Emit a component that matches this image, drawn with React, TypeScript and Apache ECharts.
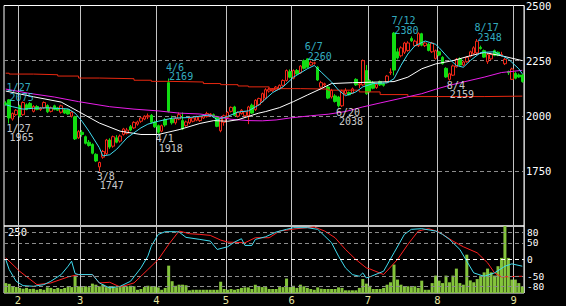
import React, { useEffect, useRef } from 'react';
import * as echarts from 'echarts';

// ---- calendar (Tokyo trading days, 2022-01-26 .. 2022-09-05) ----
const holidays = ['2022-02-11', '2022-02-23', '2022-03-21', '2022-04-29', '2022-05-03', '2022-05-04', '2022-05-05', '2022-07-18', '2022-08-11'];
function buildTradingDays(start: string, end: string): string[] {
  const out: string[] = [];
  const d = new Date(start + 'T00:00:00Z');
  const e = new Date(end + 'T00:00:00Z');
  while (d <= e) {
    const s = d.toISOString().slice(0, 10);
    const wd = d.getUTCDay();
    if (wd !== 0 && wd !== 6 && holidays.indexOf(s) < 0) out.push(s);
    d.setUTCDate(d.getUTCDate() + 1);
  }
  return out;
}
const categories = buildTradingDays('2022-01-26', '2022-09-05');

// ---- daily candles: [open, close, low, high] ----
const ohlc: number[][] = [
  [2058, 2052, 2045, 2066], [2072, 1990, 1965, 2075], [1985, 2010, 1978, 2015], [2005, 2025, 2000, 2030],
  [2045, 2000, 1992, 2050], [2005, 2060, 2000, 2065], [2050, 2028, 2025, 2056], [2056, 2035, 2030, 2062],
  [2020, 2042, 2015, 2048], [2042, 2028, 2025, 2048], [2028, 2035, 2022, 2040], [2036, 2060, 2032, 2065],
  [2046, 2018, 2012, 2052], [2020, 2036, 2015, 2042], [2045, 2028, 2025, 2050], [2036, 2025, 2022, 2040],
  [2016, 2045, 2010, 2050], [2027, 2012, 2008, 2032], [2027, 2008, 2005, 2030], [1998, 2016, 1992, 2022],
  [1995, 1895, 1890, 2000], [1900, 1928, 1895, 1935], [1925, 1915, 1905, 1935], [1905, 1875, 1870, 1910],
  [1880, 1865, 1860, 1890], [1870, 1830, 1825, 1875], [1825, 1795, 1790, 1830], [1768, 1788, 1747, 1792],
  [1812, 1838, 1805, 1845], [1828, 1890, 1822, 1895], [1890, 1858, 1850, 1898], [1862, 1905, 1855, 1910],
  [1900, 1880, 1875, 1912], [1885, 1908, 1878, 1915], [1915, 1940, 1910, 1945], [1920, 1935, 1915, 1945],
  [1950, 1935, 1930, 1958], [1945, 1970, 1940, 1975], [1962, 1972, 1955, 1978], [1975, 1990, 1968, 1995],
  [1985, 1998, 1980, 2002], [1995, 2000, 1985, 2010], [2002, 1970, 1965, 2008], [1972, 1950, 1945, 1978],
  [1955, 1925, 1918, 1960], [1930, 1955, 1925, 1960], [1982, 1958, 1950, 1990], [2150, 2020, 2015, 2169],
  [1985, 1968, 1960, 2000], [1968, 1988, 1960, 1995], [1985, 2005, 1980, 2015], [1978, 1940, 1935, 2015],
  [1955, 1972, 1950, 1978], [1968, 1988, 1962, 1995], [1975, 1990, 1970, 1995], [1980, 1995, 1975, 2000],
  [1978, 1995, 1972, 2000], [1990, 2000, 1985, 2005], [1996, 2010, 1992, 2018], [2005, 2008, 2000, 2012],
  [2005, 1995, 1990, 2010], [1995, 1952, 1948, 2000], [1932, 1990, 1925, 1995], [1970, 2000, 1955, 2005],
  [1992, 2015, 1985, 2020], [2020, 2038, 2015, 2042], [2040, 2002, 1998, 2045], [1998, 2015, 1992, 2020],
  [2010, 2025, 2005, 2030], [2000, 2018, 1995, 2022], [2000, 2040, 1962, 2045], [2048, 2012, 2008, 2055],
  [2028, 2070, 2022, 2075], [2050, 2078, 2045, 2082], [2065, 2100, 2060, 2105], [2080, 2118, 2075, 2125],
  [2112, 2120, 2105, 2128], [2113, 2120, 2108, 2125], [2117, 2130, 2112, 2135], [2122, 2138, 2118, 2142],
  [2138, 2160, 2132, 2165], [2160, 2205, 2155, 2210], [2200, 2175, 2170, 2210], [2170, 2205, 2165, 2210],
  [2205, 2190, 2185, 2212], [2195, 2225, 2190, 2230], [2250, 2215, 2210, 2255], [2258, 2220, 2215, 2260],
  [2230, 2242, 2225, 2250], [2238, 2240, 2232, 2245], [2220, 2162, 2158, 2225], [2130, 2150, 2125, 2158],
  [2140, 2145, 2132, 2150], [2130, 2080, 2075, 2138], [2085, 2115, 2078, 2122], [2090, 2065, 2060, 2098],
  [2085, 2045, 2038, 2090], [2045, 2112, 2040, 2118], [2100, 2115, 2095, 2125], [2105, 2095, 2092, 2110],
  [2102, 2122, 2098, 2128], [2165, 2140, 2135, 2170], [2140, 2145, 2125, 2150], [2140, 2250, 2135, 2255],
  [2205, 2100, 2095, 2230], [2160, 2110, 2105, 2165], [2150, 2125, 2120, 2158], [2128, 2142, 2122, 2148],
  [2155, 2140, 2135, 2160], [2145, 2138, 2132, 2150], [2152, 2180, 2148, 2185], [2195, 2198, 2185, 2215],
  [2375, 2207, 2183, 2380], [2290, 2262, 2255, 2305], [2272, 2308, 2265, 2315], [2288, 2330, 2280, 2335],
  [2296, 2330, 2290, 2338], [2350, 2340, 2335, 2360], [2318, 2338, 2312, 2345], [2318, 2372, 2312, 2378],
  [2372, 2320, 2315, 2376], [2318, 2330, 2312, 2335], [2325, 2296, 2292, 2330], [2290, 2330, 2285, 2335],
  [2260, 2295, 2255, 2300], [2290, 2275, 2270, 2295], [2265, 2236, 2232, 2270], [2215, 2176, 2172, 2220],
  [2165, 2190, 2159, 2195], [2184, 2226, 2180, 2232], [2222, 2256, 2218, 2262], [2258, 2230, 2225, 2265],
  [2230, 2244, 2224, 2250], [2245, 2265, 2240, 2270], [2270, 2290, 2265, 2295], [2282, 2308, 2278, 2315],
  [2285, 2338, 2280, 2348], [2310, 2305, 2300, 2318], [2295, 2266, 2262, 2300], [2245, 2278, 2235, 2285],
  [2258, 2278, 2252, 2285], [2295, 2274, 2270, 2300], [2288, 2275, 2270, 2292], [2276, 2278, 2268, 2290],
  [2236, 2256, 2230, 2262], [2200, 2195, 2185, 2205], [2165, 2212, 2162, 2218], [2192, 2170, 2165, 2200],
  [2185, 2176, 2172, 2192], [2185, 2155, 2150, 2190],
];

// ---- volume (thousand shares) ----
const volume: number[] = [
  37, 34, 25, 22, 19, 16, 19, 15, 16, 12, 15, 12, 21, 19, 15, 19, 15, 19, 25, 22,
  65, 25, 22, 25, 22, 35, 31, 25, 31, 22, 25, 25, 21, 25, 27, 25, 27, 25, 12, 15,
  22, 27, 25, 25, 21, 12, 19, 102, 44, 27, 31, 31, 29, 10, 12, 12, 12, 12, 12, 12,
  12, 12, 42, 15, 12, 15, 12, 15, 19, 21, 21, 15, 31, 25, 22, 22, 15, 15, 15, 22,
  22, 54, 22, 27, 19, 31, 25, 19, 15, 12, 21, 16, 15, 15, 15, 15, 21, 19, 10, 10,
  10, 10, 19, 52, 35, 27, 15, 15, 15, 19, 31, 40, 106, 50, 31, 25, 25, 22, 25, 19,
  46, 12, 12, 37, 65, 46, 37, 65, 40, 65, 91, 37, 31, 143, 47, 40, 52, 65, 77, 91,
  77, 65, 100, 131, 250, 131, 50, 50, 37, 25,
];

// ---- moving averages: [day index, price] ----
const ma5: number[][] = [
  [0, 2050], [2, 2041], [5, 2030], [8, 2034], [12, 2036], [15, 2033], [18, 2031], [20, 2012], [22, 1975],
  [24, 1930], [27, 1855], [28, 1818], [30, 1823], [32, 1848], [35, 1900], [39, 1945], [41, 1962], [44, 1975],
  [48, 1989], [53, 1992], [59, 2004], [61, 1982], [64, 1997], [67, 2017], [70, 2022], [73, 2049], [77, 2105],
  [80, 2131], [83, 2175], [87, 2213], [89, 2228], [91, 2198], [94, 2153], [96, 2116], [98, 2091], [101, 2108],
  [103, 2131], [106, 2146], [110, 2149], [112, 2168], [114, 2228], [116, 2280], [118, 2317], [121, 2339],
  [124, 2324], [125, 2309], [128, 2257], [130, 2228], [132, 2220], [134, 2250], [137, 2287], [141, 2290],
  [145, 2257], [148, 2213], [149, 2190],
];
const ma25: number[][] = [
  [0, 2112], [8, 2086], [16, 2062], [21, 2019], [27, 1967], [33, 1930], [39, 1915], [44, 1915], [50, 1937],
  [56, 1965], [60, 1978], [64, 1975], [67, 1982], [70, 1997], [73, 2012], [75, 2019], [79, 2037], [83, 2064],
  [87, 2094], [91, 2123], [94, 2146], [100, 2150], [108, 2153], [112, 2155], [116, 2175], [120, 2213],
  [124, 2235], [129, 2250], [134, 2272], [138, 2287], [143, 2272], [149, 2250],
];
const ma75: number[][] = [
  [0, 2121], [7, 2101], [14, 2085], [21, 2064], [30, 2041], [37, 2030], [44, 2022], [50, 2012], [56, 2008],
  [60, 1999], [65, 1984], [70, 1978], [74, 1977], [78, 1981], [82, 1990], [88, 2000], [93, 2007], [98, 2019],
  [103, 2040], [108, 2058], [114, 2079], [120, 2100], [124, 2120], [128, 2138], [132, 2153], [138, 2175],
  [143, 2196], [149, 2206],
];
const maLong: number[][] = [
  [0, 2193], [1, 2189], [8, 2186], [15, 2180], [21, 2171], [27, 2168], [37, 2161], [42, 2156], [47, 2153],
  [57, 2146], [62, 2141], [67, 2135], [70, 2131], [76, 2123], [85, 2121], [93, 2116], [102, 2108], [108, 2096],
  [116, 2087], [138, 2089], [149, 2089],
];

// ---- RCI lines: [day index, value] ----
const rciShort: number[][] = [
  [0, 0], [1, -30], [3, -65], [5, -78], [8, -80], [11, -75], [13, -65], [16, -45], [18, -20], [19, -5], [20, -42],
  [21, -45], [25, -45], [27, -70], [30, -85], [33, -80], [36, -65], [39, -25], [41, 10], [42, 40], [44, 75],
  [46, 83], [49, 83], [50, 82], [52, 66], [56, 60], [59, 55], [61, 30], [64, 38], [66, 52], [68, 62], [69, 42],
  [71, 42], [72, 60], [75, 68], [78, 82], [81, 90], [83, 95], [87, 95], [90, 90], [92, 70], [94, 50], [96, 10],
  [98, -25], [100, -45], [102, -50], [103, -40], [104, -55], [105, -52], [109, -35], [112, 20], [115, 75],
  [117, 90], [120, 92], [124, 85], [126, 75], [128, 60], [131, 30], [133, -5], [135, -40], [138, -50],
  [141, -40], [144, -20], [146, -13], [149, -20],
];
const rciLong: number[][] = [
  [0, 5], [4, -35], [9, -75], [13, -70], [18, -52], [21, -45], [25, -45], [27, -70], [30, -68], [33, -82],
  [37, -70], [41, -30], [44, 0], [47, 45], [50, 85], [53, 77], [56, 75], [59, 72], [62, 58], [64, 52], [69, 50],
  [72, 65], [76, 65], [79, 85], [84, 92], [89, 97], [92, 85], [95, 65], [98, 30], [101, 0], [104, -25],
  [105, -28], [109, -45], [113, 0], [116, 45], [119, 85], [122, 92], [125, 82], [129, 55], [132, 38],
  [136, 20], [139, -10], [141, -40], [143, -52], [149, -50],
];

// ---- marked highs and lows (day indices) ----
const highMarks = [1, 47, 87, 112, 136];
const lowMarks = [1, 27, 44, 96, 128];

// ---- axis ticks ----
const priceTicks = { min: 1500, max: 2500, interval: 250 };
const rciLevels = [80, 50, 0, -50, -80];
const volumeMax = 250;

const MONO = '"DejaVu Sans Mono", "Liberation Mono", monospace';
const CYAN = '#40dcf0';
const FS = 10;
const LH = 9.5;

export default function App() {
  const ref = useRef<HTMLDivElement>(null);
  useEffect(() => {
    document.body.style.margin = '0';
    document.body.style.background = '#000';
    const chart = echarts.init(ref.current!, undefined, { renderer: 'svg' });
    const monthStarts = new Set<number>();
    categories.forEach((c, i) => {
      if (i > 0 && c.slice(5, 7) !== categories[i - 1].slice(5, 7)) monthStarts.add(i);
    });
    const md = (i: number) => {
      const c = categories[i];
      return parseInt(c.slice(5, 7), 10) + '/' + parseInt(c.slice(8, 10), 10);
    };
    const splitV = {
      show: true,
      interval: (i: number) => monthStarts.has(i),
      lineStyle: { color: '#c4c4c4', width: 1 },
    };
    const rich = (color: string) => ({
      d: { color, fontFamily: MONO, fontSize: FS, lineHeight: LH, height: LH },
      p: { color, fontFamily: MONO, fontSize: FS, lineHeight: LH, height: LH, padding: [0, 0, 0, 3] },
    });
    const markData = [
      ...highMarks.map((i) => ({
        value: [i, ohlc[i][3]],
        label: {
          formatter: '{d|' + md(i) + '}\n{p|' + ohlc[i][3] + '}',
          verticalAlign: 'bottom',
          offset: [-2.6, 2.8],
          color: CYAN,
          rich: rich(CYAN),
        },
      })),
      ...lowMarks.map((i) => ({
        value: [i, ohlc[i][2]],
        label: {
          formatter: '{d|' + md(i) + '}\n{p|' + ohlc[i][2] + '}',
          verticalAlign: 'top',
          offset: [-2.6, 0],
          color: '#fff',
          rich: rich('#fff'),
        },
      })),
    ];
    const gridLine = { color: '#8c8c8c', width: 1, type: [4, 3] as any };
    chart.setOption({
      animation: false,
      backgroundColor: '#000',
      grid: [
        { left: 4, top: 2, width: 520, height: 224, show: true, borderColor: '#fff', borderWidth: 1, backgroundColor: 'transparent' },
        { left: 4, top: 226, width: 520, height: 67, show: true, borderColor: '#fff', borderWidth: 1, backgroundColor: 'transparent' },
      ],
      xAxis: [
        {
          type: 'category', gridIndex: 0, data: categories, boundaryGap: true,
          axisLine: { show: false }, axisTick: { show: false }, axisLabel: { show: false },
          splitLine: splitV,
        },
        {
          type: 'category', gridIndex: 1, data: categories, boundaryGap: true,
          axisLine: { show: false }, axisTick: { show: false },
          axisLabel: {
            show: true,
            interval: (i: number) => monthStarts.has(i),
            formatter: (v: string) => String(parseInt(v.slice(5, 7), 10)),
            color: '#e6e6a0', fontFamily: MONO, fontSize: 10.5, margin: 1,
            padding: [0, 3.5, 0, 0],
          },
          splitLine: splitV,
        },
      ],
      yAxis: [
        {
          type: 'value', gridIndex: 0, position: 'right',
          min: priceTicks.min, max: priceTicks.max, interval: priceTicks.interval,
          axisLine: { show: false }, axisTick: { show: false },
          axisLabel: {
            color: '#fff', fontFamily: MONO, fontSize: 10.5, margin: 2, showMinLabel: false, padding: [4, 0, 0, 0],
            formatter: (v: number) => String(v),
          },
          splitLine: {
            show: true,
            lineStyle: { color: ['rgba(0,0,0,0)', '#8c8c8c', '#8c8c8c', '#8c8c8c', 'rgba(0,0,0,0)'], type: [4, 3] },
          },
        },
        {
          type: 'value', gridIndex: 1, min: -100, max: 100, position: 'right',
          axisLine: { show: false }, axisTick: { show: false }, axisLabel: { show: false }, splitLine: { show: false },
        },
        {
          type: 'value', gridIndex: 1, min: 0, max: volumeMax, interval: volumeMax, position: 'left',
          axisLine: { show: false }, axisTick: { show: false }, splitLine: { show: false },
          axisLabel: {
            inside: true, margin: 4, color: '#fff', fontFamily: MONO, fontSize: 10.5,
            verticalAlign: 'top', showMinLabel: false,
            formatter: (v: number) => (v === volumeMax ? String(volumeMax) : ''),
          },
        },
      ],
      series: [
        {
          type: 'candlestick', xAxisIndex: 0, yAxisIndex: 0, data: ohlc, barWidth: 3,
          itemStyle: { color: '#000', color0: '#12dc12', borderColor: '#f02818', borderColor0: '#12dc12', borderWidth: 1 },
        },
        { type: 'line', xAxisIndex: 0, yAxisIndex: 0, data: maLong, step: 'end', symbol: 'none', lineStyle: { color: '#e82810', width: 1 } },
        { type: 'line', xAxisIndex: 0, yAxisIndex: 0, data: ma75, symbol: 'none', lineStyle: { color: '#e81ee8', width: 1 } },
        { type: 'line', xAxisIndex: 0, yAxisIndex: 0, data: ma25, symbol: 'none', lineStyle: { color: '#ffffff', width: 1 } },
        { type: 'line', xAxisIndex: 0, yAxisIndex: 0, data: ma5, symbol: 'none', lineStyle: { color: CYAN, width: 1 } },
        {
          type: 'scatter', xAxisIndex: 0, yAxisIndex: 0, symbolSize: 1,
          itemStyle: { color: 'rgba(0,0,0,0)' },
          label: { show: true, position: 'inside', align: 'left' },
          data: markData, z: 10,
        },
        { type: 'bar', xAxisIndex: 1, yAxisIndex: 2, data: volume, barWidth: 3, itemStyle: { color: '#84c43c' } },
        {
          type: 'line', xAxisIndex: 1, yAxisIndex: 1, data: rciLong, symbol: 'none', lineStyle: { color: '#ff2020', width: 1 },
          markLine: {
            silent: true, symbol: ['none', 'none'],
            label: {
              show: true, position: 'end', formatter: '{c}', color: '#fff', fontFamily: MONO,
              fontSize: 9.5, lineHeight: 9, height: 9, distance: 3,
            },
            data: rciLevels.map((v) => ({
              yAxis: v,
              lineStyle: v === 0 ? { color: '#ffffff', width: 1, type: [4, 3] } : gridLine,
            })),
          },
        },
        { type: 'line', xAxisIndex: 1, yAxisIndex: 1, data: rciShort, symbol: 'none', lineStyle: { color: CYAN, width: 1 } },
      ],
    });
    return () => chart.dispose();
  }, []);
  return <div ref={ref} style={{ position: 'absolute', left: 0, top: 0, width: 566, height: 306, background: '#000' }} />;
}
